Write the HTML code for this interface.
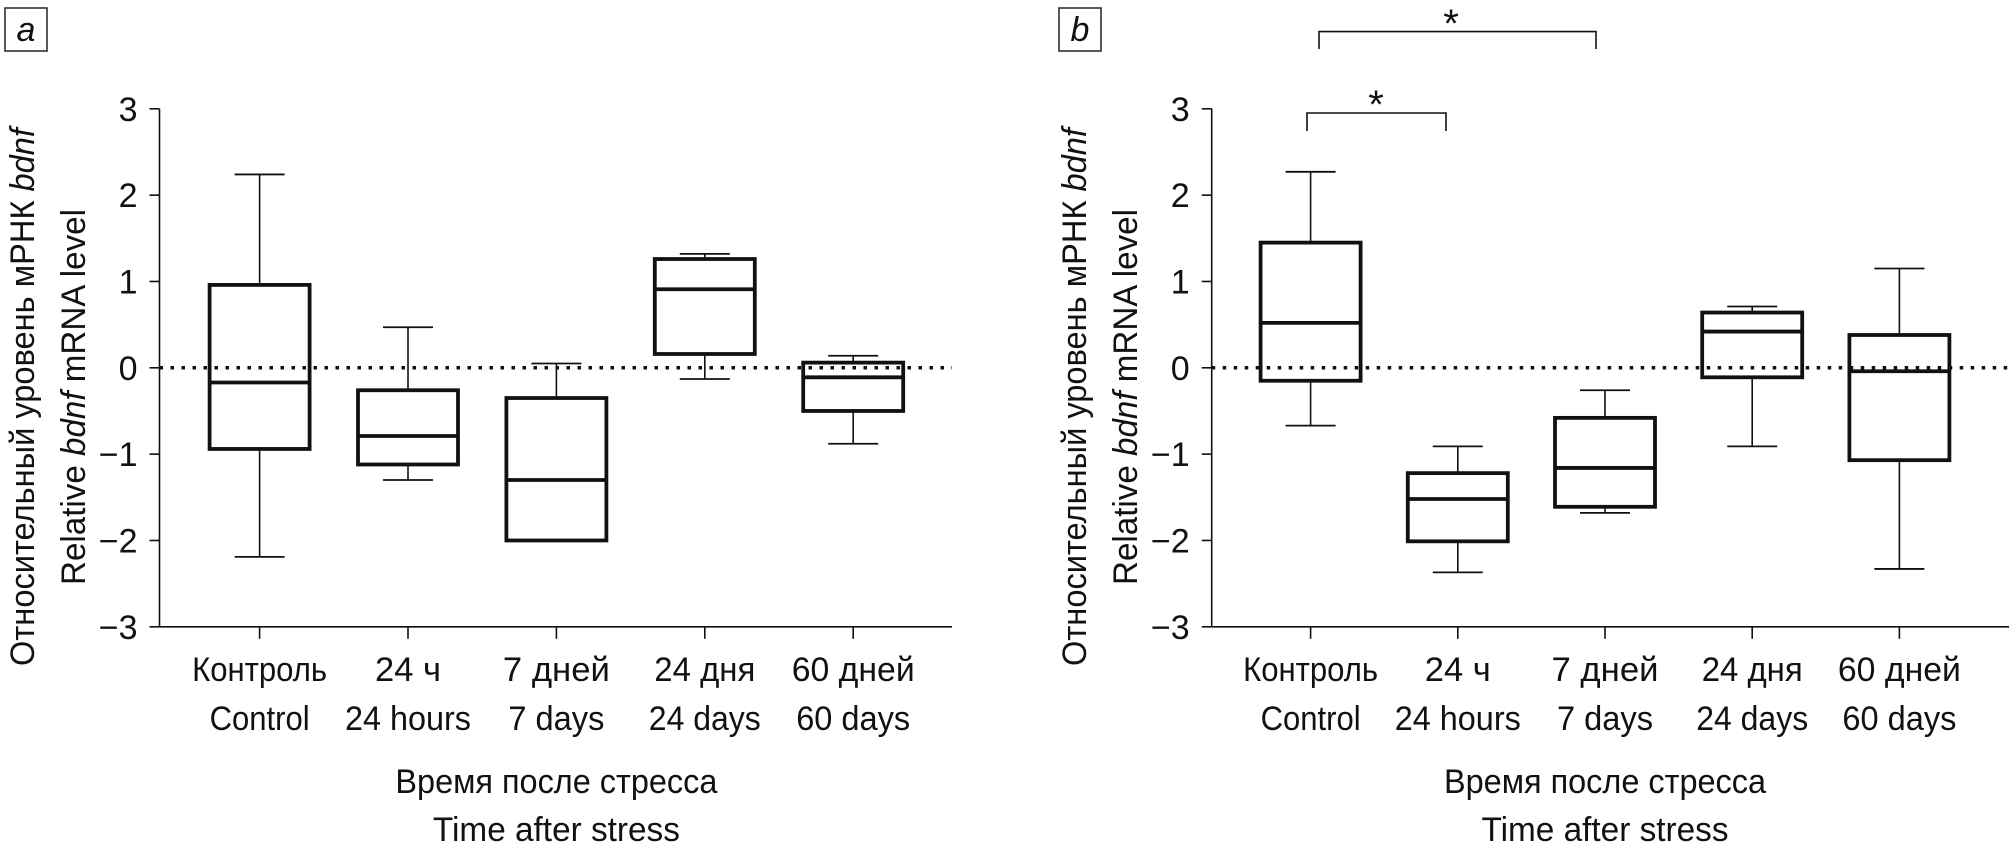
<!DOCTYPE html>
<html><head><meta charset="utf-8"><style>
html,body{margin:0;padding:0;background:#fff;}
svg{display:block;}
text{font-family:"Liberation Sans Narrow","Liberation Sans","DejaVu Sans Condensed",sans-serif;fill:#111;}
</style></head><body>
<svg id="chart" width="2009" height="853" viewBox="0 0 2009 853" xmlns="http://www.w3.org/2000/svg"></svg>
<script>
const categoriesRu = ["Контроль","24 ч","7 дней","24 дня","60 дней"];
const categoriesEn = ["Control","24 hours","7 days","24 days","60 days"];
const yTicks = [3,2,1,0,-1,-2,-3];
const yTickLabels = ["3","2","1","0","\u22121","\u22122","\u22123"];
// panel a: [min, q1, median, q3, max]
const aMin = [-2.19,-1.30,-2.00,-0.13,-0.88];
const aQ1  = [-0.94,-1.12,-2.00,0.16,-0.50];
const aMed = [-0.17,-0.79,-1.30,0.91,-0.11];
const aQ3  = [0.96,-0.26,-0.35,1.26,0.06];
const aMax = [2.24,0.47,0.05,1.32,0.14];
// panel b
const bMin = [-0.67,-2.37,-1.68,-0.91,-2.33];
const bQ1  = [-0.15,-2.01,-1.61,-0.11,-1.07];
const bMed = [0.52,-1.52,-1.16,0.42,-0.04];
const bQ3  = [1.45,-1.22,-0.58,0.64,0.38];
const bMax = [2.27,-0.91,-0.26,0.71,1.15];

const NS="http://www.w3.org/2000/svg";
const svg=document.getElementById('chart');
function mk(tag,attrs,parent){const e=document.createElementNS(NS,tag);for(const k in attrs)e.setAttribute(k,attrs[k]);(parent||svg).appendChild(e);return e;}

const yTop=108.8, yBot=626.8;
function yScale(v){return yTop+(3-v)*(yBot-yTop)/6;}

function panel(p){
  const g=mk('g',{});
  
  
  const xScale=i=>p.x0+i*p.step;
  const lb=mk('rect',{x:p.boxX,y:8,width:42,height:43,fill:'none',stroke:'#222','stroke-width':1.5},g);
  
  
  const lt=mk('text',{x:p.boxX+21,y:41,'text-anchor':'middle','font-size':34,'font-style':'italic'},g);
  lt.textContent=p.letter;
  
  
  const ya=mk('line',{x1:p.ax,y1:yTop,x2:p.ax,y2:yBot,stroke:'#111','stroke-width':1.6},g);
  
  
  const xa=mk('line',{x1:p.ax,y1:yBot,x2:p.axEnd,y2:yBot,stroke:'#111','stroke-width':1.6},g);
  
  
  yTicks.forEach((t,i)=>{
    const y=yScale(t);
    const tk=mk('line',{x1:p.ax-10,y1:y,x2:p.ax,y2:y,stroke:'#111','stroke-width':1.6},g);
    
    
    const tl=mk('text',{x:p.ax-22,y:y+12,'text-anchor':'end','font-size':34},g);
    tl.textContent=yTickLabels[i];
    
    
  });
  const zl=mk('line',{x1:p.ax,y1:yScale(0),x2:p.axEnd,y2:yScale(0),stroke:'#111','stroke-width':3.5,'stroke-dasharray':'3.5 7.5'},g);
  
  
  const wRu=[135,66,107,101,123], wEn=[100,126,96,112,114];
  categoriesRu.forEach((c,i)=>{
    const x=xScale(i);
    const tk=mk('line',{x1:x,y1:yBot,x2:x,y2:yBot+12,stroke:'#111','stroke-width':1.6},g);
    
    
    const t1=mk('text',{x:x,y:681,'text-anchor':'middle','font-size':34,textLength:wRu[i],lengthAdjust:'spacingAndGlyphs'},g);
    t1.textContent=c;
    
    
    const t2=mk('text',{x:x,y:730,'text-anchor':'middle','font-size':34,textLength:wEn[i],lengthAdjust:'spacingAndGlyphs'},g);
    t2.textContent=categoriesEn[i];
    
    
    const bw=50;
    const wt=mk('line',{x1:x,y1:yScale(p.max[i]),x2:x,y2:yScale(p.q3[i]),stroke:'#111','stroke-width':1.6},g);
    
    
    const ct=mk('line',{x1:x-25,y1:yScale(p.max[i]),x2:x+25,y2:yScale(p.max[i]),stroke:'#111','stroke-width':1.8},g);
    
    
    const wb=mk('line',{x1:x,y1:yScale(p.q1[i]),x2:x,y2:yScale(p.min[i]),stroke:'#111','stroke-width':1.6},g);
    
    
    const cb=mk('line',{x1:x-25,y1:yScale(p.min[i]),x2:x+25,y2:yScale(p.min[i]),stroke:'#111','stroke-width':1.8},g);
    
    
    const bx=mk('rect',{x:x-bw,y:yScale(p.q3[i]),width:2*bw,height:yScale(p.q1[i])-yScale(p.q3[i]),fill:'none',stroke:'#111','stroke-width':3.8},g);
    
    
    const md=mk('line',{x1:x-bw,y1:yScale(p.med[i]),x2:x+bw,y2:yScale(p.med[i]),stroke:'#111','stroke-width':3.8},g);
    
    
  });
  const xc=xScale(2);
  const x1=mk('text',{x:xc,y:793,'text-anchor':'middle','font-size':34,textLength:322,lengthAdjust:'spacingAndGlyphs'},g);
  x1.textContent='Время после стресса';
  
  
  const x2=mk('text',{x:xc,y:841,'text-anchor':'middle','font-size':34,textLength:247,lengthAdjust:'spacingAndGlyphs'},g);
  x2.textContent='Time after stress';
  
  
  const yt1=mk('text',{x:0,y:0,'text-anchor':'middle','font-size':34,textLength:538,lengthAdjust:'spacingAndGlyphs',transform:`translate(${p.yt1x},397) rotate(-90)`},g);
  yt1.innerHTML='Относительный уровень мРНК <tspan font-style="italic">bdnf</tspan>';
  
  
  const yt2=mk('text',{x:0,y:0,'text-anchor':'middle','font-size':34,textLength:376,lengthAdjust:'spacingAndGlyphs',transform:`translate(${p.yt1x+51},397) rotate(-90)`},g);
  yt2.innerHTML='Relative <tspan font-style="italic">bdnf</tspan> mRNA level';
  
  
  return g;
}

panel({name:'panel-a',letter:'a',boxX:5,ax:159.5,axEnd:952,x0:259.6,step:148.4,yt1x:34,
  min:aMin,q1:aQ1,med:aMed,q3:aQ3,max:aMax});
const gb=panel({name:'panel-b',letter:'b',boxX:1059,ax:1211.7,axEnd:2009,x0:1310.6,step:147.2,yt1x:1086,
  min:bMin,q1:bQ1,med:bMed,q3:bQ3,max:bMax});

const br1=mk('polyline',{points:'1307,131 1307,113 1446,113 1446,131',fill:'none',stroke:'#111','stroke-width':1.6},gb);


const s1=mk('text',{x:1376,y:118,'text-anchor':'middle','font-size':40},gb);
s1.textContent='*';


const br2=mk('polyline',{points:'1319,49 1319,31.6 1596,31.6 1596,49',fill:'none',stroke:'#111','stroke-width':1.6},gb);


const s2=mk('text',{x:1451,y:37,'text-anchor':'middle','font-size':40},gb);
s2.textContent='*';


</script>
</body></html>
